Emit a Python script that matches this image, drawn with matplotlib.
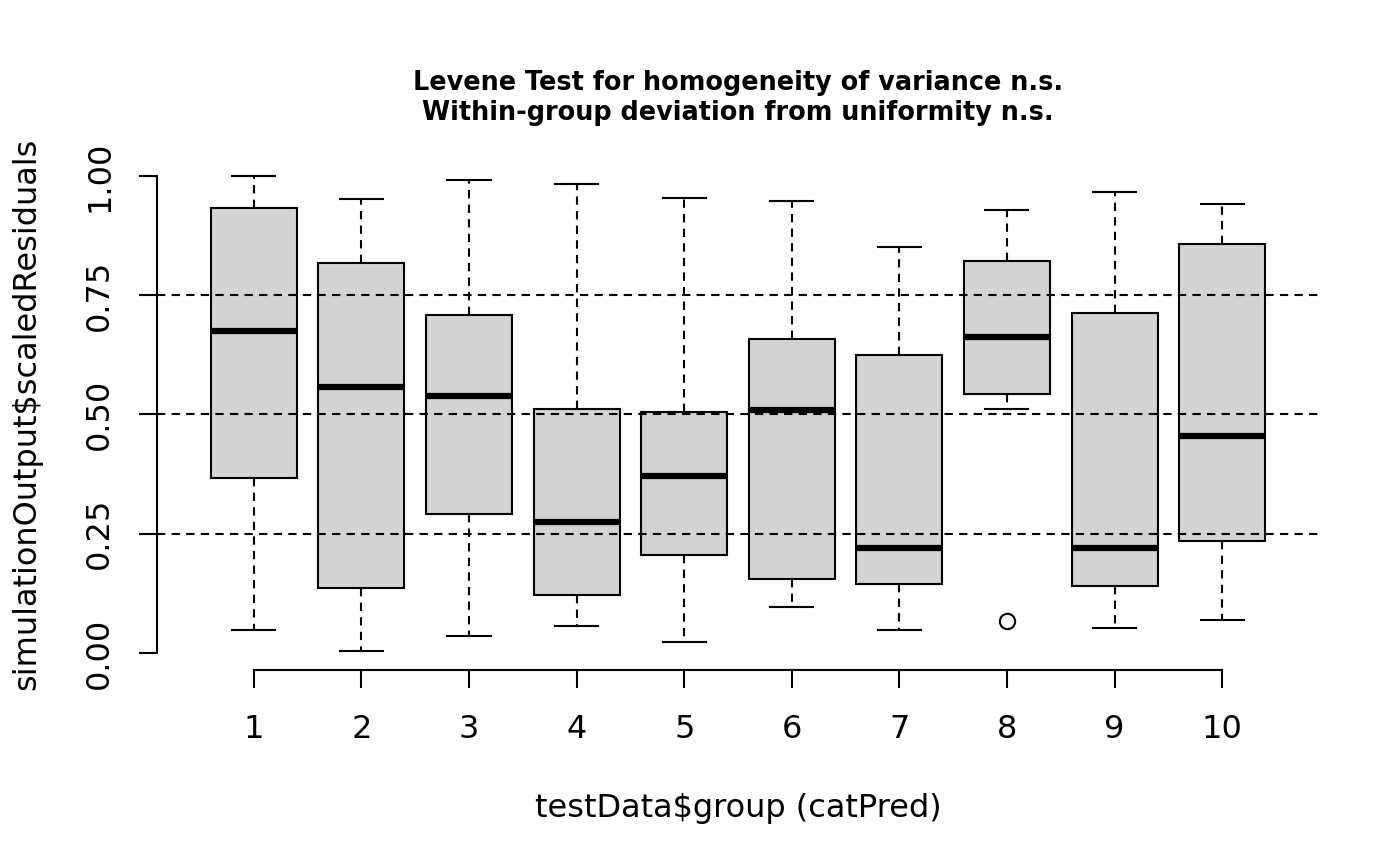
import matplotlib
matplotlib.use("Agg")
import matplotlib.pyplot as plt

groups = [1, 2, 3, 4, 5, 6, 7, 8, 9, 10]
whisker_low = [0.048, 0.004, 0.036, 0.057, 0.023, 0.097, 0.048, 0.512, 0.053, 0.069]
q1 = [0.366, 0.137, 0.291, 0.122, 0.206, 0.156, 0.145, 0.543, 0.141, 0.234]
medians = [0.674, 0.558, 0.539, 0.274, 0.371, 0.509, 0.221, 0.663, 0.221, 0.455]
q3 = [0.933, 0.817, 0.709, 0.512, 0.505, 0.659, 0.625, 0.821, 0.712, 0.857]
whisker_high = [1.000, 0.952, 0.992, 0.983, 0.954, 0.947, 0.851, 0.928, 0.966, 0.941]
outliers = [[], [], [], [], [], [], [], [0.067], [], []]
ref_lines = [0.25, 0.5, 0.75]
ytick_vals = [0.0, 0.25, 0.5, 0.75, 1.0]
ytick_labels = ["0.00", "0.25", "0.50", "0.75", "1.00"]

stats = []
for i in range(len(groups)):
    stats.append({
        'whislo': whisker_low[i], 'q1': q1[i], 'med': medians[i],
        'q3': q3[i], 'whishi': whisker_high[i], 'fliers': outliers[i],
    })

fig = plt.figure(figsize=(14, 8.66), dpi=100)
ax = fig.add_axes([157 / 1400, 1 - 670 / 866, (1319 - 157) / 1400, (670 - 157) / 866])

lw = 1.5
ax.bxp(
    stats, positions=groups, widths=0.8, capwidths=0.4,
    patch_artist=True, showfliers=True,
    boxprops=dict(facecolor='#d3d3d3', edgecolor='black', linewidth=lw),
    whiskerprops=dict(color='black', linewidth=lw, linestyle=(0, (4, 3))),
    capprops=dict(color='black', linewidth=lw),
    medianprops=dict(color='black', linewidth=4.5, solid_capstyle='butt'),
    flierprops=dict(marker='o', markersize=11, markerfacecolor='none',
                    markeredgecolor='black', markeredgewidth=lw),
)

for h in ref_lines:
    ax.axhline(h, color='black', linewidth=lw, linestyle=(0, (4, 3)), zorder=5)

ax.set_xlim(0.1, 10.9)
ylo, yhi = min(whisker_low + sum(outliers, [])), max(whisker_high)
pad = 0.04 * (yhi - ylo)
ax.set_ylim(ylo - pad, yhi + pad)

for s in ['top', 'right']:
    ax.spines[s].set_visible(False)
ax.spines['left'].set_bounds(0, 1)
ax.spines['bottom'].set_bounds(1, 10)
for s in ['left', 'bottom']:
    ax.spines[s].set_linewidth(lw)

ax.set_xticks(groups)
ax.set_xticklabels([str(g) for g in groups], fontsize=23)
ax.set_yticks(ytick_vals)
ax.set_yticklabels(ytick_labels, fontsize=23, rotation=90, va='center')
ax.tick_params(axis='both', length=13, width=lw, color='black')
ax.tick_params(axis='x', pad=19)
ax.tick_params(axis='y', pad=17)

ax.set_xlabel('testData$group (catPred)', fontsize=23, labelpad=34)
ax.set_ylabel('simulationOutput$scaledResiduals', fontsize=23, labelpad=30)
ax.set_title('Levene Test for homogeneity of variance n.s.\nWithin-group deviation from uniformity n.s.',
             fontsize=18.4, fontweight='bold', pad=27, linespacing=1.2)

fig.savefig('out.png', dpi=100)
